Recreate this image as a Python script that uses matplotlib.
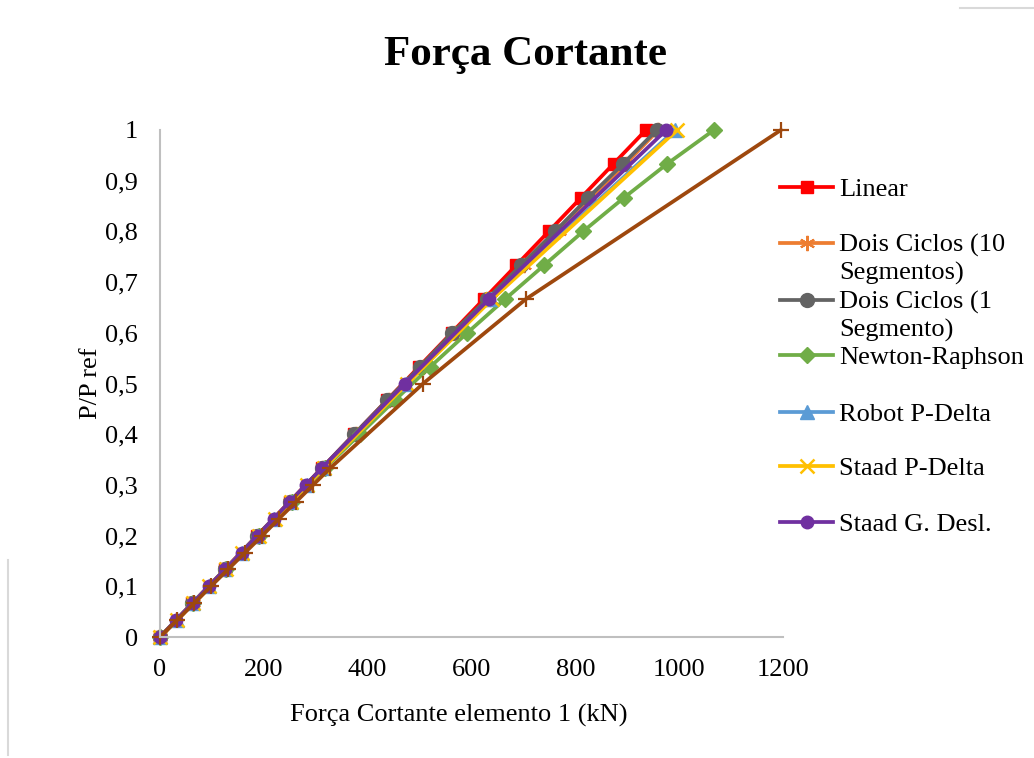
import matplotlib
matplotlib.use('Agg')
import matplotlib.pyplot as plt
from matplotlib.lines import Line2D

plt.rcParams['font.family'] = ['Liberation Serif', 'DejaVu Serif']

# P/P ref levels
y_fine = [0, 1/30, 2/30, 3/30, 4/30, 5/30, 6/30, 7/30, 8/30, 9/30, 10/30, 0.5, 2/3, 1.0]
y_step = [k / 15 for k in range(16)]

# Shear force in element 1 (kN)
linear = [936 * y for y in y_step]
dois_10 = [0, 63, 126, 188, 251, 314, 378, 442, 506, 569, 636, 702, 768, 832, 897, 960]
dois_1 = [0, 62, 125, 187, 250, 312, 374, 437, 501, 563, 630, 695, 761, 825, 892, 957]
newton = [0, 63, 127, 190, 254, 318, 385, 452, 521, 592, 665, 740, 815, 894, 977, 1067]
robot = [0, 32, 63, 95, 126, 158, 189, 220, 252, 283, 315, 474, 637, 992]
staad_pd = [0, 32, 64, 95, 127, 158, 190, 221, 253, 284, 316, 476, 640, 996]
staad_gd = [0, 31, 63, 94, 126, 157, 188, 219, 250, 281, 312, 472, 634, 975]
extra = [0, 33, 66, 98, 131, 164, 197, 229, 262, 295, 328, 507, 705, 1196]

series = [
    ('Linear', y_step, linear, '#FF0000', dict(marker='s', ms=8.5)),
    ('Dois Ciclos (10\nSegmentos)', y_step, dois_10, '#ED7D31', dict(marker=(6, 2, 0), ms=11, mew=1.5)),
    ('Dois Ciclos (1\nSegmento)', y_step, dois_1, '#636363', dict(marker='o', ms=10)),
    ('Newton-Raphson', y_step, newton, '#70AD47', dict(marker='D', ms=8.5)),
    ('Robot P-Delta', y_fine, robot, '#5B9BD5', dict(marker='^', ms=10)),
    ('Staad P-Delta', y_fine, staad_pd, '#FFC000', dict(marker='x', ms=10, mew=1.8)),
    ('Staad G. Desl.', y_fine, staad_gd, '#7030A0', dict(marker='o', ms=9)),
]

fig = plt.figure(figsize=(10.34, 7.58), dpi=100)
ax = fig.add_axes([160 / 1034, 121 / 758, 623 / 1034, 507 / 758])

for name, ys, xs, color, mk in series:
    ax.plot(xs, ys, color=color, lw=2.7, mfc=color, mec=color, clip_on=False, **mk)
ax.plot(extra, y_fine, color='#9E480E', lw=2.7, marker='+', ms=12, mew=1.6, clip_on=False)

ax.set_xlim(0, 1200)
ax.set_ylim(0, 1)
ax.set_xticks(range(0, 1201, 200))
ax.set_yticks([i / 10 for i in range(11)])
ax.set_yticklabels(['0'] + ['0,%d' % i for i in range(1, 10)] + ['1'])
ax.tick_params(length=0, labelsize=19)
ax.tick_params(axis='x', pad=16)
ax.tick_params(axis='y', pad=16)
for s in ['top', 'right']:
    ax.spines[s].set_visible(False)
for s in ['left', 'bottom']:
    ax.spines[s].set_color('#BFBFBF')
    ax.spines[s].set_linewidth(1.5)
ax.patch.set_alpha(0)

ax.set_xlabel('Força Cortante elemento 1 (kN)', fontsize=19)
ax.xaxis.set_label_coords((459 - 160) / 623, -(715 - 637) / 507)
ax.xaxis.label.set_va('center')
ax.set_ylabel('P/P ref', fontsize=19, labelpad=2)
fig.text(525 / 1034, 1 - 55 / 758, 'Força Cortante', fontsize=31, fontweight='bold',
         ha='center', va='center')

# legend drawn by hand so the handle sits on the first line of wrapped labels
leg_y = [187, 243, 300, 355, 412, 466, 522]
for (name, ys, xs, color, mk), py in zip(series, leg_y):
    fy = 1 - py / 758
    fig.add_artist(Line2D([780 / 1034, 833 / 1034], [fy, fy], color=color, lw=2.7))
    fig.add_artist(Line2D([806.5 / 1034], [fy], color=color, mfc=color, mec=color, **mk))
    for i, line in enumerate(name.split('\n')):
        fig.text(839 / 1034, fy - (9 + 28 * i) / 758, line, fontsize=19,
                 ha='left', va='baseline')

# faint chart border pieces
fig.add_artist(Line2D([8 / 1034, 8 / 1034], [3 / 758, 198 / 758], color='#D9D9D9', lw=1.5))
fig.add_artist(Line2D([960 / 1034, 1], [1 - 8 / 758, 1 - 8 / 758], color='#D9D9D9', lw=1.5))

fig.savefig('out.png', dpi=100)
